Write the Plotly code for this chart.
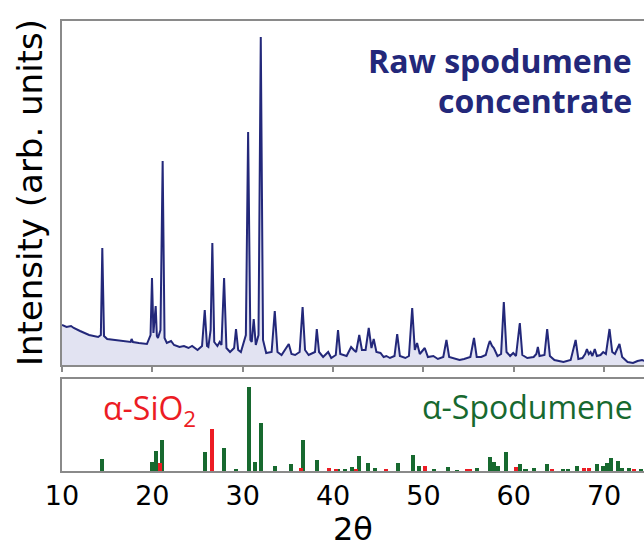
import plotly.graph_objects as go

# ---------------- data ----------------
two_theta = [10.0, 10.5, 11.0, 11.3, 12.0, 13.0, 14.0, 14.3, 14.46, 14.65, 15.0, 16.0, 17.0, 17.6, 17.7, 17.85,
             18.5, 19.4, 19.8, 19.96, 20.12, 20.25, 20.37, 20.5, 20.62, 20.9, 21.14, 21.35, 21.6, 22.07, 22.4,
             23.0, 23.5, 24.0, 24.4, 25.0, 25.5, 25.8, 26.05, 26.2, 26.45, 26.64, 26.85, 27.2, 27.45, 27.65,
             27.94, 28.2, 28.6, 29.05, 29.26, 29.5, 29.8, 30.35, 30.6, 30.85, 31.0, 31.22, 31.45, 31.75, 32.0,
             32.25, 32.6, 33.2, 33.55, 33.85, 34.3, 35.1, 35.4, 35.8, 36.3, 36.63, 36.9, 37.3, 38.0, 38.2,
             38.45, 38.9, 39.46, 39.8, 40.3, 40.55, 40.8, 41.5, 42.0, 42.3, 42.55, 42.9, 43.2, 43.6, 43.95,
             44.25, 44.5, 44.8, 45.25, 45.6, 45.9, 46.3, 46.8, 47.1, 47.4, 48.0, 48.4, 48.76, 49.05, 49.3,
             49.6, 50.15, 50.5, 51.1, 51.6, 52.2, 52.55, 52.85, 53.5, 54.0, 54.5, 55.2, 55.6, 55.9, 56.4,
             56.9, 57.2, 57.35, 57.6, 57.8, 58.2, 58.6, 58.9, 59.2, 59.6, 59.94, 60.25, 60.67, 60.95, 61.5,
             62.2, 62.5, 62.67, 62.85, 63.4, 63.7, 64.0, 64.5, 65.5, 66.3, 66.85, 67.15, 67.6, 67.9, 68.1,
             68.3, 68.5, 68.7, 68.97, 69.2, 69.6, 69.9, 70.2, 70.6, 70.9, 71.2, 71.7, 72.0, 72.6, 73.2,
             73.7, 74.2, 74.5]
# intensity read as height above the panel floor (arb. units)
intensity = [40, 38, 39, 37, 34, 30, 28, 30, 117, 29, 26, 25, 24, 23, 26, 23,
             22, 21, 30, 87, 32, 45, 59, 29, 27, 35, 204, 27, 22, 24, 20,
             18, 19, 17, 19, 15, 19, 55, 19, 18, 35, 122, 23, 19, 23, 20,
             87, 17, 13, 17, 36, 15, 13, 30, 233, 25, 23, 46, 20, 30, 328,
             25, 12, 13, 54, 13, 10, 21, 11, 10, 13, 58, 15, 10, 13, 36,
             13, 8, 13, 7, 10, 35, 11, 9, 18, 15, 13, 30, 15, 15, 37,
             17, 26, 13, 12, 8, 9, 7, 9, 31, 9, 7, 9, 57, 15, 22,
             11, 17, 8, 9, 6, 8, 25, 8, 6, 5, 6, 8, 27, 8, 8,
             10, 20, 24, 19, 17, 9, 11, 63, 13, 9, 12, 9, 42, 10, 7,
             8, 11, 18, 9, 10, 36, 9, 5, 3, 5, 25, 6, 7, 11, 16,
             11, 13, 9, 16, 9, 10, 13, 11, 36, 13, 11, 21, 8, 3, 2,
             4, 5, 4]

spod_pos = [14.43, 19.93, 20.37, 21.1, 25.8, 27.94, 29.3, 30.67, 31.33, 32.0, 33.55, 35.3, 36.7, 38.27,
            40.5, 41.3, 42.1, 42.9, 43.9, 44.6, 47.2, 48.9, 49.5, 51.15, 52.7, 53.7, 55.95, 57.4, 57.8,
            58.2, 59.1, 60.7, 61.3, 62.2, 63.7, 65.5, 66.0, 67.0, 69.2, 69.9, 70.3, 70.75, 71.5, 72.0,
            72.8, 74.1]
spod_int = [11.7, 9.3, 20.3, 31, 19.3, 22.7, 1.7, 84.3, 8.7, 47.7, 5.3, 6.7, 30.7, 11,
            1.5, 1.5, 4.3, 14.7, 8.3, 2.7, 8.3, 16, 5, 1.7, 3.7, 1, 3.3, 13.7, 9.3,
            5, 19.3, 6.7, 1.5, 2.7, 6.7, 1.5, 2, 5, 6.7, 5, 8.3, 12.7, 10.3, 2.7,
            2.7, 2]

sio2_pos = [20.8, 26.64, 36.5, 39.5, 40.3, 42.5, 45.9, 50.2, 54.8, 55.2, 60.2, 64.2, 67.8, 68.3, 73.3]
sio2_int = [7.7, 42, 2.7, 2.7, 2, 2, 1.7, 5.3, 1.5, 1.7, 3.7, 1.5, 2.7, 2.7, 1.5]

tick_vals = [10, 20, 30, 40, 50, 60, 70]
tick_text = ["10", "20", "30", "40", "50", "60", "70"]

# ---------------- style ----------------
NAVY = "#23287a"
FILL = "#e2e3f2"
GREEN = "#17692f"
RED = "#ec1c24"
FRAME = "#8a8a8a"

W, H = 644, 550
ML, MR, MT, MB = 62, 0, 21, 79
PW, PH = W - ML - MR, H - MT - MB


def px(xp):
    return (xp - ML) / PW


def py(yp):
    return (H - MB - yp) / PH


fig = go.Figure()
fig.add_trace(go.Scatter(x=two_theta, y=intensity, mode="lines", fill="tozeroy",
                         fillcolor=FILL, line=dict(color=NAVY, width=2),
                         xaxis="x", yaxis="y", showlegend=False))
fig.add_trace(go.Bar(x=spod_pos, y=spod_int, width=0.45, marker=dict(color=GREEN, line=dict(width=0)),
                     xaxis="x2", yaxis="y2", showlegend=False))
fig.add_trace(go.Bar(x=sio2_pos, y=sio2_int, width=0.45, marker=dict(color=RED, line=dict(width=0)),
                     xaxis="x2", yaxis="y2", showlegend=False))

xr = [10, 10 + PW / 9.035]
top_dom = [py(365), 1]
bot_dom = [0, py(379)]

fig.update_layout(
    width=W, height=H,
    margin=dict(l=ML, r=MR, t=MT, b=MB),
    paper_bgcolor="white", plot_bgcolor="white",
    barmode="overlay", bargap=0,
    xaxis=dict(domain=[0, 1], anchor="y", range=xr, showline=True, mirror=True,
               linecolor=FRAME, linewidth=1.5, ticks="outside", ticklen=5, tickwidth=1.5,
               tickcolor=FRAME, tickvals=tick_vals, showticklabels=False,
               showgrid=False, zeroline=False),
    yaxis=dict(domain=top_dom, anchor="x", range=[0, 344], showline=True, linecolor=FRAME,
               linewidth=1.5, showticklabels=False, ticks="", showgrid=False, zeroline=False),
    xaxis2=dict(domain=[0, 1], anchor="y2", range=xr, showline=True, mirror=True,
                linecolor=FRAME, linewidth=1.5, ticks="", tickvals=tick_vals, ticktext=tick_text,
                tickfont=dict(family="DejaVu Sans", size=27, color="black"),
                showgrid=False, zeroline=False),
    yaxis2=dict(domain=bot_dom, anchor="x2", range=[0, 92], showline=True, linecolor=FRAME,
                linewidth=1.5, showticklabels=False, ticks="", showgrid=False, zeroline=False),
)

ann = []
ann.append(dict(text="Intensity (arb. units)", x=px(30), y=py(193), xref="paper", yref="paper",
                textangle=-90, showarrow=False, xanchor="center", yanchor="middle",
                font=dict(family="DejaVu Sans", size=34, color="black")))
ann.append(dict(text="2θ", x=px(353), y=py(529), xref="paper", yref="paper", showarrow=False,
                xanchor="center", yanchor="middle",
                font=dict(family="DejaVu Sans", size=32, color="black")))
ann.append(dict(text="<b>Raw spodumene</b>", x=px(634), y=py(60), xref="paper", yref="paper",
                showarrow=False, xanchor="right", yanchor="middle",
                font=dict(family="Open Sans", size=32, color=NAVY)))
ann.append(dict(text="<b>concentrate</b>", x=px(634), y=py(100), xref="paper", yref="paper",
                showarrow=False, xanchor="right", yanchor="middle",
                font=dict(family="Open Sans", size=32, color=NAVY)))
ann.append(dict(text="α-SiO<sub>2</sub>", x=px(101), y=py(410), xref="paper", yref="paper",
                showarrow=False, xanchor="left", yanchor="middle",
                font=dict(family="Open Sans", size=32, color=RED)))
ann.append(dict(text="α-Spodumene", x=px(635), y=py(406), xref="paper", yref="paper",
                showarrow=False, xanchor="right", yanchor="middle",
                font=dict(family="Open Sans", size=32, color=GREEN)))
fig.update_layout(annotations=ann)

fig.write_html("out.html", config={"displayModeBar": False},
               post_script="document.body.style.margin='0';document.body.style.overflow='hidden';")
